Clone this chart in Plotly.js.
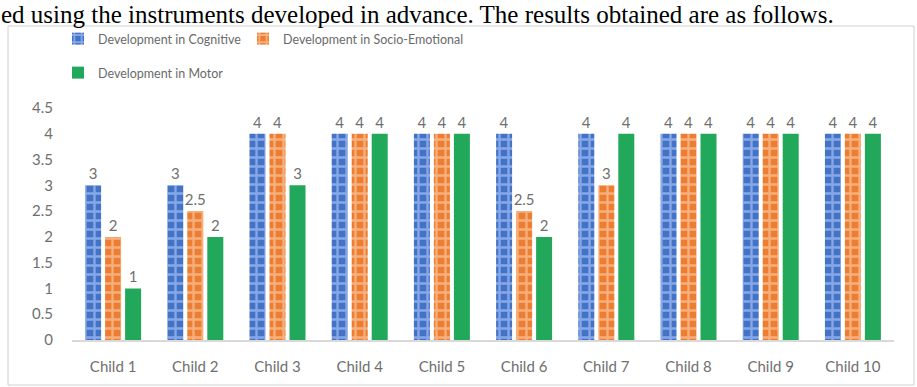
<!DOCTYPE html>
<html>
<head>
<meta charset="utf-8">
<script src="https://cdn.plot.ly/plotly-3.0.1.min.js"></script>
<style>html,body{margin:0;padding:0;background:#fff;}#chart{width:917px;height:387px;}</style>
</head>
<body>
<div id="chart"></div>
<script>
const categories = ["Child 1","Child 2","Child 3","Child 4","Child 5","Child 6","Child 7","Child 8","Child 9","Child 10"];
const cognitive = [3, 3, 4, 4, 4, 4, 4, 4, 4, 4];
const socioEmotional = [2, 2.5, 4, 4, 4, 2.5, 3, 4, 4, 4];
const motor = [1, 2, 3, 4, 4, 2, 4, 4, 4, 4];
const seriesNames = ["Development in Cognitive", "Development in Socio-Emotional", "Development in Motor"];
const yTicks = [0, 0.5, 1, 1.5, 2, 2.5, 3, 3.5, 4, 4.5];
const introText = "ed using the instruments developed in advance. The results obtained are as follows.";

const W = 917, H = 387, L = 72, R = 23, T = 108, B = 47;
const pw = W - L - R, ph = H - T - B;
const px = v => (v - L) / pw;
const py = v => (H - B - v) / ph;

const labelFont = {family: "Lato, sans-serif", size: 15, color: "#6f6f6f"};
function trace(name, y, color, light, legend, pattern) {
  const t = {
    type: "bar", name: name, x: categories, y: y,
    text: y.map(String), textposition: "outside", cliponaxis: false, constraintext: "none",
    textfont: labelFont,
    marker: {color: color, line: {width: 0}},
    legend: legend
  };
  if (pattern) {
    t.marker.pattern = {shape: "+", fgcolor: light, bgcolor: color, size: 9, solidity: 0.45, fillmode: "replace"};
  }
  return t;
}

const data = [
  trace(seriesNames[0], cognitive, "#4472C4", "#86A8E8", "legend", true),
  trace(seriesNames[1], socioEmotional, "#ED7D31", "#F6B07E", "legend2", true),
  trace(seriesNames[2], motor, "#22A85A", "#22A85A", "legend3", false)
];

const legendFont = {family: "Lato, sans-serif", size: 12.5, color: "#6a6a6a"};
function leg(x, y) {
  return {orientation: "h", x: px(x), xanchor: "left", y: py(y), yanchor: "middle",
          font: legendFont, itemwidth: 30, bgcolor: "rgba(0,0,0,0)"};
}

const layout = {
  width: W, height: H,
  margin: {l: L, r: R, t: T, b: B},
  paper_bgcolor: "#ffffff", plot_bgcolor: "#ffffff",
  barmode: "group", bargap: 0.27, bargroupgap: 0.2,
  showlegend: true,
  legend: leg(58, 39),
  legend2: leg(243, 39),
  legend3: leg(58, 73),
  xaxis: {type: "category", showline: true, linecolor: "#d9d9d9", linewidth: 1.5, ticks: "",
          showgrid: false, tickfont: labelFont, ticklabelstandoff: 12, fixedrange: true},
  yaxis: {range: [0, 4.5], tickvals: yTicks, ticktext: yTicks.map(String), showgrid: false,
          zeroline: false, showline: false, ticks: "", tickfont: labelFont, ticklabelstandoff: 18, fixedrange: true},
  shapes: [
    {type: "rect", xref: "paper", yref: "paper", x0: px(8), x1: px(914), y0: py(385), y1: py(26),
     line: {color: "#d0d0d0", width: 1}, fillcolor: "rgba(0,0,0,0)", layer: "below"}
  ],
  annotations: [
    {text: introText, xref: "paper", yref: "paper", x: px(0), xanchor: "left", y: py(0), yanchor: "top",
     showarrow: false, borderpad: 0, font: {family: "Liberation Serif, serif", size: 25, color: "#000"}}
  ]
};

Plotly.newPlot("chart", data, layout, {displayModeBar: false, staticPlot: true});
</script>
</body>
</html>
